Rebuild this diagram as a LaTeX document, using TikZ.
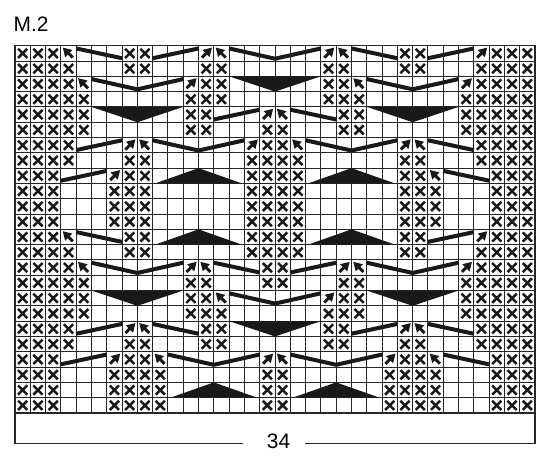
\documentclass[tikz,border=0pt]{standalone}
\usepackage{fontspec}
\setmainfont{Liberation Sans}
\usepackage{tikz}
\usetikzlibrary{calc}
\usetikzlibrary{arrows.meta}
\tikzset{
  gridline/.style={black!85, line width=1bp},
  chartframe/.style={black!85, line width=1.3bp},
  xmark/.style={black!90, line width=2.5bp},
  cableline/.style={black!90, line width=4bp, line join=round},
  tipline/.style={black!90, line width=3bp, -{Triangle[length=8.5bp,width=9.5bp]}},
  wedge/.style={fill=black!90, draw=none},
  bracket/.style={black!85, line width=1.4bp},
  chartlabel/.style={inner sep=0, font=\fontsize{21}{24}\selectfont},
}

\begin{document}
\begin{tikzpicture}[x=15.294bp, y=-15.304bp]
\useasboundingbox (-0.981,-2.986) rectangle (34.981,27.071);
% grid
\foreach \c in {0,...,34} \draw[gridline] (\c,0) -- (\c,24);
\foreach \r in {0,...,24} \draw[gridline] (0,\r) -- (34,\r);
\draw[chartframe] (0,0) rectangle (34,24);
% centre motifs
\foreach \r in {1,17} \draw[cableline] (14,\r-0.82) -- (17,\r-0.15) -- (20,\r-0.82);
\foreach \r in {3,19} \fill[wedge] (14,\r-1) -- (20,\r-1) -- (17,\r) -- cycle;
% left half, then mirrored
\foreach \s/\sh in {1/0,-1/34} {
\begin{scope}[shift={(\sh,0)}, xscale=\s]
  \foreach \r/\cs in {1/{1,2,3,8,9}, 2/{1,2,3,4,8,9,13,14}, 3/{1,2,3,4,13,14},
      4/{1,2,3,4,5,12,13,14}, 5/{1,2,3,4,5,12,13}, 6/{1,2,3,4,5,12,13,17},
      7/{1,2,3,4,17}, 8/{1,2,3,4,8,9,16,17}, 9/{1,2,3,8,9,16,17},
      10/{1,2,3,7,8,9,16,17}, 11/{1,2,3,7,8,9,16,17}, 12/{1,2,3,7,8,9,16,17},
      13/{1,2,3,8,9,16,17}, 14/{1,2,3,4,8,9,16,17}, 15/{1,2,3,4,17},
      16/{1,2,3,4,5,12,13,17}, 17/{1,2,3,4,5,12,13}, 18/{1,2,3,4,5,12,13,14},
      19/{1,2,3,4,13,14}, 20/{1,2,3,4,8,9,13,14}, 21/{1,2,3,8,9},
      22/{1,2,3,7,8,9,10,17}, 23/{1,2,3,7,8,9,10,17}, 24/{1,2,3,7,8,9,10,17}}
    \foreach \c in \cs
      \draw[xmark] (\c-0.8,\r-0.8) -- (\c-0.2,\r-0.2) (\c-0.8,\r-0.2) -- (\c-0.2,\r-0.8);
  % arrows
  \foreach \c/\r in {4/1,14/1,5/3,9/7,4/13,5/15,13/15,14/17,9/19,10/21}
    \draw[tipline] (\c-0.22,\r-0.22) -- (\c-0.88,\r-0.88);
  \foreach \c/\r in {13/1,12/3,17/5,8/7,16/7,7/9,12/15,8/19,7/21,17/21}
    \draw[tipline] (\c-0.78,\r-0.22) -- (\c-0.12,\r-0.88);
  % slanted lines
  \foreach \r/\x in {1/4,13/4,15/13,19/9}
    \draw[cableline] (\x,\r-0.82) -- (\x+3,\r-0.18);
  \foreach \r/\x in {1/9,5/13,7/4,9/3,19/4,21/3}
    \draw[cableline] (\x,\r-0.18) -- (\x+3,\r-0.82);
  \foreach \r/\x in {3/5,7/9,15/5,21/10}
    \draw[cableline] (\x,\r-0.82) -- (\x+3,\r-0.15) -- (\x+6,\r-0.82);
  % wedges
  \foreach \r/\x in {5/5,17/5}
    \fill[wedge] (\x,\r-1) -- (\x+6,\r-1) -- (\x+3,\r) -- cycle;
  \foreach \r/\x in {9/9,13/9,23/10}
    \fill[wedge] (\x+0.16,\r) -- (\x+5.84,\r) -- (\x+3,\r-1) -- cycle;
\end{scope}
}
% labels
\node[chartlabel, anchor=base west] (title) at (-0.1,-0.915) {M.2};
\node[chartlabel, anchor=base] (count) at (17.23,26.3) {34};
\coordinate (bl) at (0,26);
\coordinate (br) at (34,26);
\draw[bracket] (0,24) -- (bl) -- ($(bl -| count.west)+(-24bp,0)$);
\draw[bracket] (34,24) -- (br) -- ($(br -| count.east)+(15bp,0)$);
\end{tikzpicture}
\end{document}
